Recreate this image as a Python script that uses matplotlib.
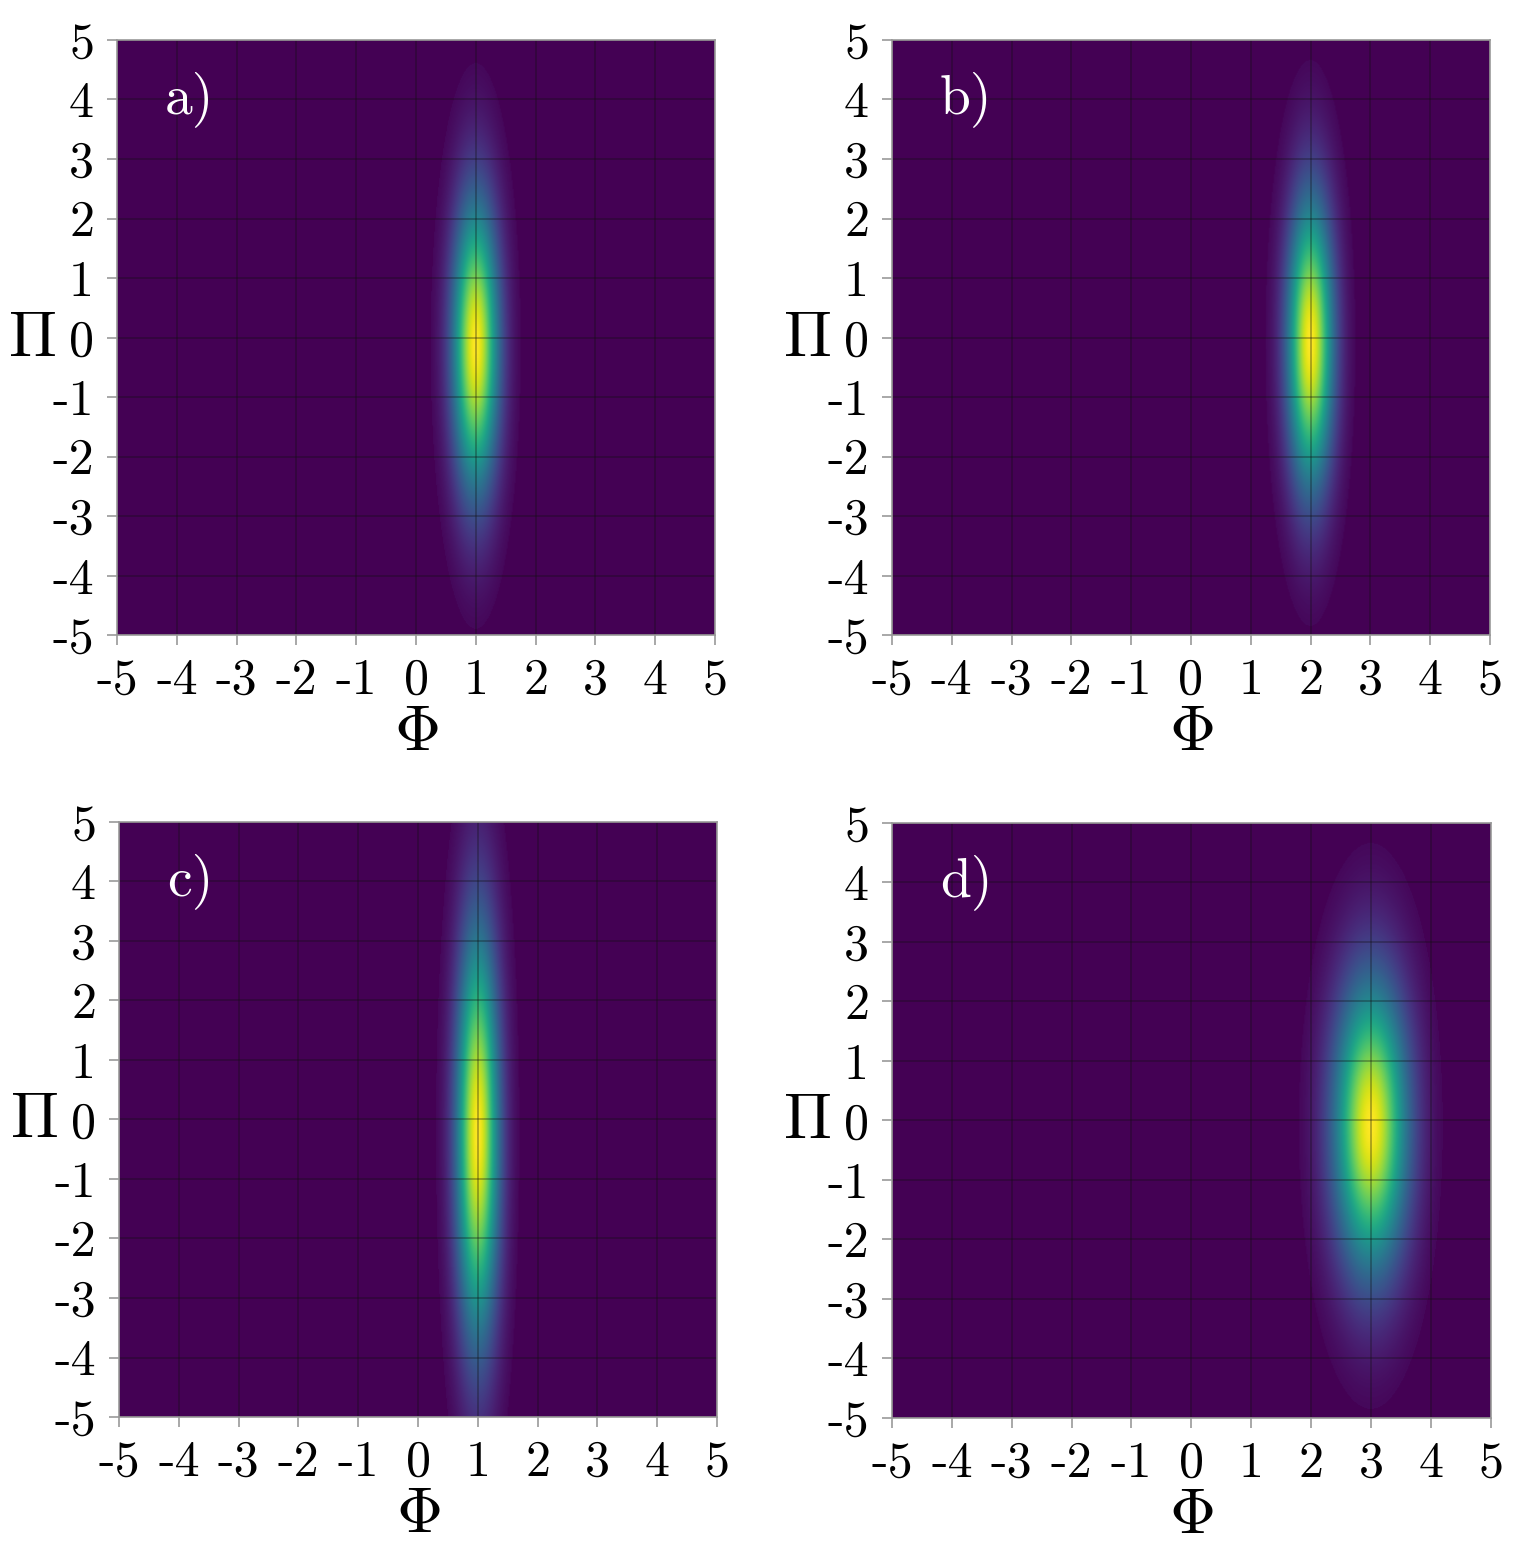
import numpy as np
import matplotlib.pyplot as plt

plt.rcParams['mathtext.fontset'] = 'cm'

# Gaussian quasi-probability blobs
panel_labels = ['a)', 'b)', 'c)', 'd)']
center_phi = [1.0, 2.0, 1.0, 3.0]
center_pi = [-0.15, -0.1, -0.25, -0.1]
width_phi = [0.27, 0.27, 0.25, 0.43]
width_pi = [1.7, 1.7, 2.4, 1.7]
cutoff = 0.02

ticks = list(range(-5, 6))
tick_labels = [str(t) for t in ticks]

# axes rectangles in figure fractions
positions = [
    [0.0770, 0.5900, 0.3934, 0.3842],
    [0.5868, 0.5900, 0.3934, 0.3842],
    [0.0783, 0.0852, 0.3934, 0.3842],
    [0.5868, 0.0846, 0.3940, 0.3842],
]


def density(i, phi, pi):
    z = np.exp(-0.5 * ((phi - center_phi[i]) / width_phi[i]) ** 2
               - 0.5 * ((pi - center_pi[i]) / width_pi[i]) ** 2)
    return np.where(z < cutoff, 0.0, z)


def main():
    fig = plt.figure(figsize=(15.2, 15.49), dpi=100)
    phi = np.linspace(-5, 5, 600)
    pi = np.linspace(-5, 5, 600)
    PHI, PI = np.meshgrid(phi, pi)

    for i, pos in enumerate(positions):
        ax = fig.add_axes(pos)
        z = density(i, PHI, PI)
        ax.imshow(z, extent=[-5, 5, -5, 5], origin='lower', cmap='viridis',
                  vmin=0, vmax=1, aspect='auto', interpolation='bilinear')
        ax.set_xlim(-5, 5)
        ax.set_ylim(-5, 5)
        ax.set_xticks(ticks)
        ax.set_yticks(ticks)
        ax.set_xticklabels(tick_labels, fontfamily='cmr10', fontsize=36)
        ax.set_yticklabels(tick_labels, fontfamily='cmr10', fontsize=36)
        ax.tick_params(axis='x', length=7.5, width=1.2, color='#999999', pad=9)
        ax.tick_params(axis='y', length=7.5, width=1.2, color='#999999', pad=9)
        ax.grid(True, color='#111111', alpha=0.4, linewidth=1.1)
        for s in ax.spines.values():
            s.set_color('#999999')
            s.set_linewidth(1.2)
        ax.text(-4.2, 4.0, panel_labels[i], color='white', fontfamily='cmr10',
                fontsize=40, ha='left', va='center')
        ax.text(0.5, -0.163, r'$\Phi$', transform=ax.transAxes,
                fontsize=46, ha='center', va='center')
        ax.text(-0.142, 0.5, r'$\Pi$', transform=ax.transAxes,
                fontsize=46, ha='center', va='center')

    fig.savefig('out.png', dpi=100)


if __name__ == "__main__":
    main()
